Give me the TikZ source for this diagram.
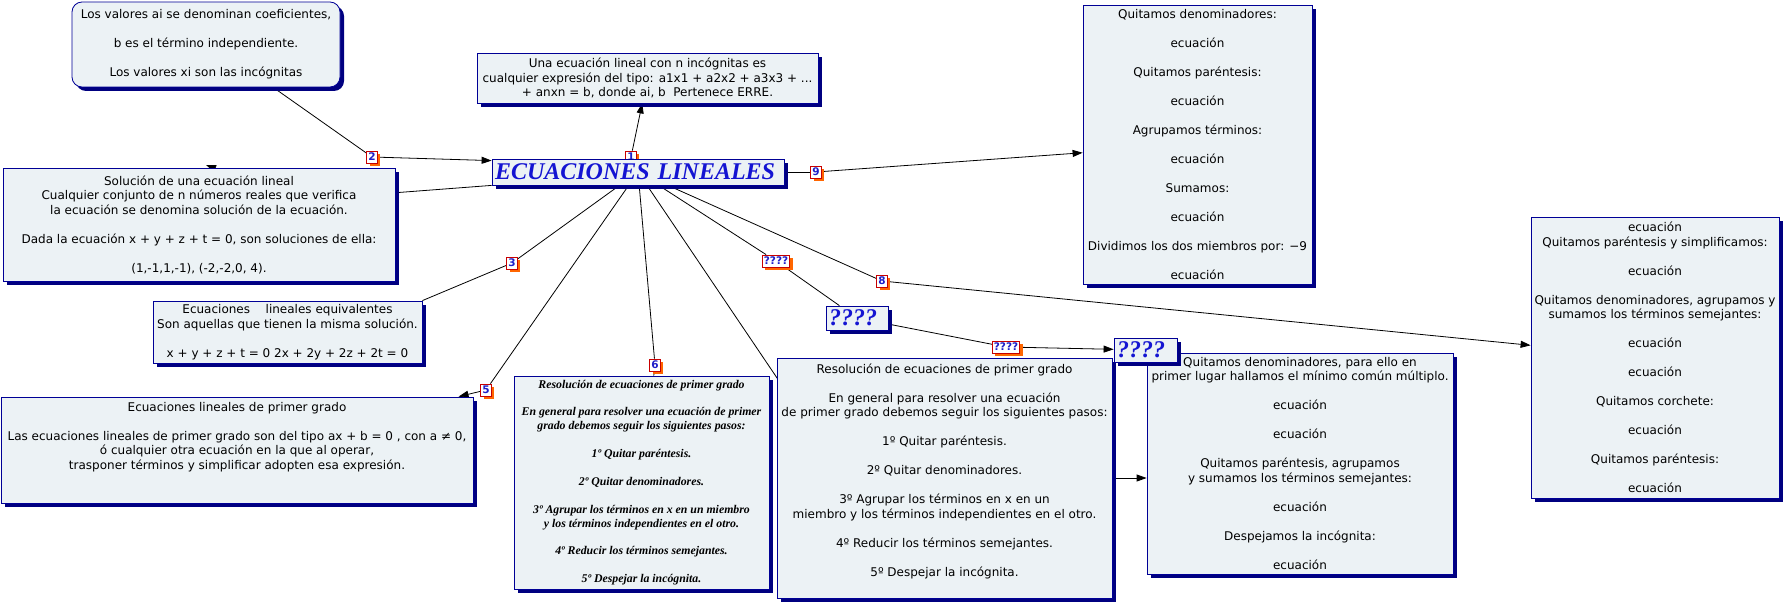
\documentclass[tikz,border=0pt]{standalone}
\usepackage{fontspec}
\setmainfont{DejaVu Sans}
\newfontfamily\serifbi{Liberation Serif}
\usepackage{tikz}
\usetikzlibrary{arrows.meta,positioning,backgrounds,shadows,calc}

\definecolor{boxfill}{RGB}{236,242,245}
\definecolor{boxline}{RGB}{0,0,150}
\definecolor{boxshadow}{RGB}{0,0,128}
\definecolor{tagred}{RGB}{200,0,0}
\definecolor{tagorange}{RGB}{255,102,0}
\definecolor{tagblue}{RGB}{30,30,200}
\definecolor{titleblue}{RGB}{20,20,210}

\begin{document}
\begin{tikzpicture}[
    x=1pt, y=-1pt,
    >={Triangle[length=10pt,width=7pt]},
    box/.style={draw=boxline, fill=boxfill, line width=0.8pt, align=center, inner sep=2pt,
        font=\fontsize{12}{14.5}\selectfont,
        drop shadow={fill=boxshadow, opacity=1, shadow xshift=4pt, shadow yshift=-4pt}},
    headbox/.style={box, text=titleblue, align=left, inner xsep=3pt,
        font=\serifbi\bfseries\itshape\fontsize{24}{26}\selectfont},
    serifbox/.style={box, font=\serifbi\bfseries\itshape\fontsize{11.8}{13.9}\selectfont},
    tagbox/.style={draw=tagred, fill=white, text=tagblue, line width=0.8pt,
        font=\bfseries\fontsize{10.5}{10.5}\selectfont, inner xsep=1.5pt, inner ysep=1pt,
        minimum height=12pt,
        drop shadow={fill=tagorange, opacity=1, shadow xshift=3pt, shadow yshift=-3pt}},
    conn/.style={line width=0.8pt},
]

\useasboundingbox (0,0) rectangle (1787,604);

% label behind the central node
\node[tagbox] (L1) at (631,157) {1};

% central concept
\node[headbox, text width=286pt, minimum height=26pt] (ecua) at (638,172) {ECUACIONES LINEALES};

% concepts round it
\node[box, rounded corners=10pt, minimum width=268pt, minimum height=85pt] (valores) at (206,44.5)
    {Los valores ai se denominan coeficientes,\\[14.5pt] b es el término independiente.\\[14.5pt] Los valores xi son las incógnitas};

\node[box, minimum width=341pt, minimum height=50pt] (una) at (647.5,78)
    {Una ecuación lineal con n incógnitas es\\ cualquier expresión del tipo: a1x1 + a2x2 + a3x3 + ...\\ + anxn = b, donde ai, b\ \ Pertenece ERRE.};

\node[box, minimum width=392pt, minimum height=113pt] (sol) at (199,224.5)
    {Solución de una ecuación lineal\\ Cualquier conjunto de n números reales que verifica\\ la ecuación se denomina solución de la ecuación.\\[14.5pt] Dada la ecuación x + y + z + t = 0, son soluciones de ella:\\[14.5pt] (1,-1,1,-1), (-2,-2,0, 4).};

\node[box, minimum width=269pt, minimum height=62pt] (equiv) at (287.5,332)
    {Ecuaciones\hspace{1.3em}lineales equivalentes\\ Son aquellas que tienen la misma solución.\\[14.5pt] x + y + z + t = 0 2x + 2y + 2z + 2t = 0};

\node[box, minimum width=472pt, minimum height=106pt] (primer) at (237,450)
    {Ecuaciones lineales de primer grado\\[14.5pt] Las ecuaciones lineales de primer grado son del tipo ax + b = 0 , con a ≠ 0,\\ ó cualquier otra ecuación en la que al operar,\\ trasponer términos y simplificar adopten esa expresión.\\[14.5pt]\mbox{}};

\node[serifbox, minimum width=255pt, minimum height=213pt] (italic) at (641.5,482.5)
    {Resolución de ecuaciones de primer grado\\[13.9pt] En general para resolver una ecuación de primer\\ grado debemos seguir los siguientes pasos:\\[13.9pt] 1º Quitar paréntesis.\\[13.9pt] 2º Quitar denominadores.\\[13.9pt] 3º Agrupar los términos en x en un miembro\\ y los términos independientes en el otro.\\[13.9pt] 4º Reducir los términos semejantes.\\[13.9pt] 5º Despejar la incógnita.};

\node[box, minimum width=335pt, minimum height=240pt] (resol) at (944.5,478)
    {Resolución de ecuaciones de primer grado\\[14.5pt] En general para resolver una ecuación\\ de primer grado debemos seguir los siguientes pasos:\\[14.5pt] 1º Quitar paréntesis.\\[14.5pt] 2º Quitar denominadores.\\[14.5pt] 3º Agrupar los términos en x en un\\ miembro y los términos independientes en el otro.\\[14.5pt] 4º Reducir los términos semejantes.\\[14.5pt] 5º Despejar la incógnita.\\[2pt]\mbox{}};

\node[box, minimum width=229pt, minimum height=279pt] (quit1) at (1197.5,144.5)
    {Quitamos denominadores:\\[14.5pt] ecuación\\[14.5pt] Quitamos paréntesis:\\[14.5pt] ecuación\\[14.5pt] Agrupamos términos:\\[14.5pt] ecuación\\[14.5pt] Sumamos:\\[14.5pt] ecuación\\[14.5pt] Dividimos los dos miembros por: −9\\[14.5pt] ecuación};

\node[box, minimum width=306pt, minimum height=221pt] (quit2) at (1300,463.5)
    {Quitamos denominadores, para ello en\\ primer lugar hallamos el mínimo común múltiplo.\\[14.5pt] ecuación\\[14.5pt] ecuación\\[14.5pt] Quitamos paréntesis, agrupamos\\ y sumamos los términos semejantes:\\[14.5pt] ecuación\\[14.5pt] Despejamos la incógnita:\\[14.5pt] ecuación};

\node[box, minimum width=248pt, minimum height=281pt] (quit3) at (1655,357.5)
    {ecuación\\ Quitamos paréntesis y simplificamos:\\[14.5pt] ecuación\\[14.5pt] Quitamos denominadores, agrupamos y\\ sumamos los términos semejantes:\\[14.5pt] ecuación\\[14.5pt] ecuación\\[14.5pt] Quitamos corchete:\\[14.5pt] ecuación\\[14.5pt] Quitamos paréntesis:\\[14.5pt] ecuación};

\node[headbox, text width=56pt, minimum height=24pt] (q1) at (857,318) {????};
\node[headbox, text width=57pt, minimum height=24pt] (q2) at (1145.5,350) {????};

% linking labels
\node[tagbox] (L2) at (372,157) {2};
\node[tagbox] (L3) at (512,263) {3};
\node[tagbox] (L5) at (486,390) {5};
\node[tagbox] (L6) at (655,365) {6};
\node[tagbox] (L8) at (882,281) {8};
\node[tagbox] (L9) at (816,172) {9};
\node[tagbox] (Lq1) at (776,261) {????};
\node[tagbox] (Lq2) at (1006,347) {????};

% hidden ends of links under the boxes
\coordinate (valpt) at ($(valores.south west)!0.75!(valores.south east)$);
\coordinate (solin) at (300,200);
\coordinate (soltip) at (206,165);
\coordinate (resolin) at (800,412);

% links
\begin{scope}[on background layer]
\fill[white] (0,0) rectangle (1787,604);
\draw[conn] (ecua) -- (L1);
\draw[conn, ->] (L1) -- (una);
\draw[conn] (valpt) -- (L2);
\draw[conn, ->] (L2) -- ([yshift=-2pt]ecua.north west);
\draw[conn] (ecua.south west) -- (solin);
\draw[conn, ->] (solin) -- (soltip);
\draw[conn] (ecua) -- (L3) -- (equiv.north east);
\draw[conn] (ecua) -- (L5);
\draw[conn, ->] (L5) -- (primer);
\draw[conn] (ecua) -- (L6) -- (italic);
\draw[conn] (ecua) -- (resolin);
\draw[conn] (ecua) -- (Lq1) -- (q1);
\draw[conn] (q1) -- (Lq2);
\draw[conn, ->] (Lq2) -- (q2);
\draw[conn] (ecua) -- (L8);
\draw[conn, ->] (L8) -- (quit3);
\draw[conn] (ecua) -- (L9);
\draw[conn, ->] (L9) -- (quit1);
\draw[conn, ->] (resol.east) -- (resol.east -| quit2.west);
\end{scope}

\end{tikzpicture}
\end{document}
